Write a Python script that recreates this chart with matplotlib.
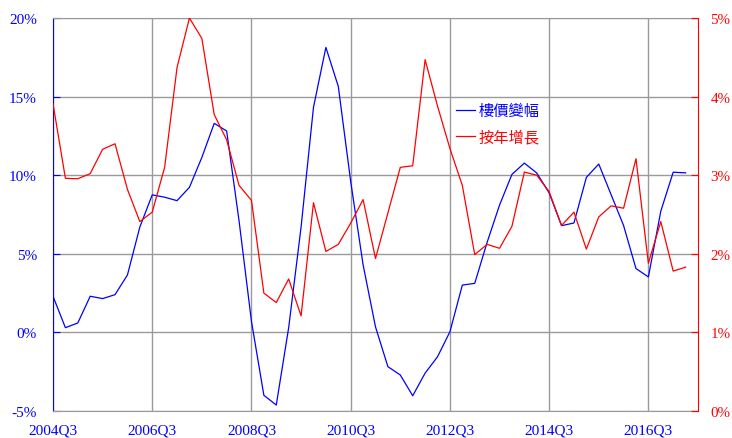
import matplotlib
matplotlib.use("Agg")
import matplotlib.pyplot as plt
from matplotlib.ticker import FixedLocator, FuncFormatter

plt.rcParams['font.family'] = ['Liberation Serif', 'Noto Sans CJK TC']

# Quarterly index 2004Q3 .. 2017Q2
tick_positions = [0, 8, 16, 24, 32, 40, 48]
tick_labels = ["2004Q3", "2006Q3", "2008Q3", "2010Q3", "2012Q3", "2014Q3", "2016Q3"]

# 樓價變幅 (left axis, %)
house_price = [2.3, 0.3, 0.6, 2.3, 2.15, 2.4, 3.65, 6.7, 8.75, 8.6,
               8.38, 9.23, 11.13, 13.3, 12.81, 7.1, 0.7, -4.0, -4.62, 0.3,
               6.7, 14.32, 18.13, 15.65, 9.6, 4.3, 0.35, -2.18, -2.71, -4.03,
               -2.59, -1.55, 0.04, 3.01, 3.12, 5.73, 8.1, 10.05, 10.77, 10.14,
               8.87, 6.79, 6.96, 9.86, 10.71, 8.75, 6.8, 4.06, 3.53, 7.71,
               10.19, 10.15]

# 按年增長 (right axis, %)
yoy_growth = [3.91, 2.96, 2.955, 3.02, 3.33, 3.40, 2.82, 2.41, 2.53, 3.10,
              4.37, 5.0, 4.74, 3.77, 3.45, 2.87, 2.68, 1.50, 1.38, 1.68,
              1.21, 2.65, 2.03, 2.12, 2.39, 2.69, 1.94, 2.52, 3.10, 3.12,
              4.47, 3.88, 3.34, 2.87, 1.99, 2.12, 2.07, 2.35, 3.04, 3.00,
              2.79, 2.36, 2.53, 2.06, 2.47, 2.61, 2.58, 3.21, 1.88, 2.41,
              1.78, 1.83]

left_ticks = [-5, 0, 5, 10, 15, 20]
right_ticks = [0, 1, 2, 3, 4, 5]

BLUE = "#0000ff"
RED = "#ff0000"
GRID = "#9a9a9a"

fig = plt.figure(figsize=(7.32, 4.39), dpi=100)
ax = fig.add_axes([53/732, 1 - 412/439, (698-53)/732, (412-19)/439])
ax2 = ax.twinx()

x = list(range(len(house_price)))
l1, = ax.plot(x, house_price, color=BLUE, lw=0.9, label="樓價變幅")
l2, = ax2.plot(x, yoy_growth, color=RED, lw=0.9, label="按年增長")

ax.set_xlim(0, 52)
ax.set_ylim(-5, 20)
ax2.set_ylim(0, 5)

ax.xaxis.set_major_locator(FixedLocator(tick_positions))
ax.set_xticklabels(tick_labels)
ax.yaxis.set_major_locator(FixedLocator(left_ticks))
ax2.yaxis.set_major_locator(FixedLocator(right_ticks))
ax.yaxis.set_major_formatter(FuncFormatter(lambda v, p: f"{v:.0f}%"))
ax2.yaxis.set_major_formatter(FuncFormatter(lambda v, p: f"{v:.0f}%"))

ax.grid(True, color=GRID, lw=1.0)
ax.set_axisbelow(True)

ax.tick_params(axis='x', length=0, pad=9, labelsize=11, labelcolor=BLUE)
ax.tick_params(axis='y', direction='in', length=5, color=BLUE, pad=11.5,
               labelsize=11, labelcolor=BLUE)
ax2.tick_params(axis='y', direction='in', length=5, color=RED, pad=9,
                labelsize=10.8, labelcolor=RED)

for s in ['top', 'bottom']:
    ax.spines[s].set_color(GRID)
    ax2.spines[s].set_visible(False)
ax.spines['left'].set_color(BLUE)
ax.spines['right'].set_visible(False)
ax2.spines['left'].set_visible(False)
ax2.spines['right'].set_color(RED)

leg = ax2.legend(handles=[l1, l2], loc='upper left',
                 bbox_to_anchor=(456/732, 1 - 103/439),
                 bbox_transform=fig.transFigure,
                 frameon=False, borderpad=0, borderaxespad=0,
                 handlelength=1.25, handletextpad=0.25, labelspacing=0.6,
                 labelcolor='linecolor',
                 prop={'family': ['Noto Sans CJK TC'], 'size': 11})

fig.savefig("out.png", dpi=100)
